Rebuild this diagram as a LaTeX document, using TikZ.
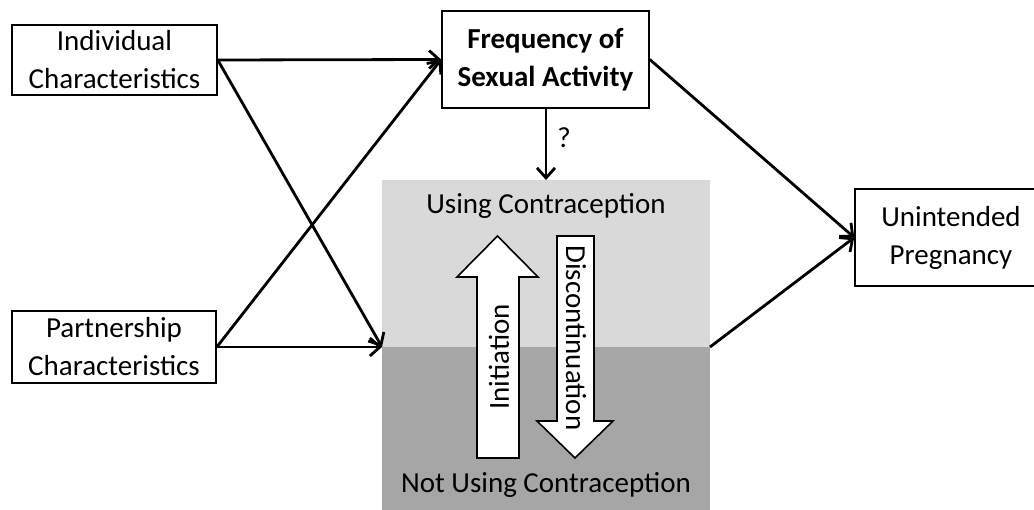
\documentclass[tikz,border=0pt]{standalone}
\usepackage{fontspec}
\setmainfont{Carlito}
\usetikzlibrary{arrows.meta}
\definecolor{lightfill}{HTML}{D9D9D9}
\definecolor{darkfill}{HTML}{A6A6A6}
\begin{document}
\begin{tikzpicture}[x=1pt,y=-1pt,
  box/.style={draw, line width=1.6pt, fill=white, align=center, font=\fontsize{29}{38}\selectfont, inner sep=0pt},
  conn/.style={line width=2.8pt, -{Straight Barb[length=10pt,width=18pt]}},
  lbl/.style={font=\fontsize{29}{38}\selectfont, inner sep=0pt},
  bigarrow/.style={draw, line width=1.6pt, fill=white, line join=miter}]
\useasboundingbox (0,0) rectangle (1034,510);
% contraception states
\fill[lightfill] (382,180) rectangle (710,347);
\fill[darkfill] (382,347) rectangle (710,510);
\coordinate (gw) at (382,347);
\coordinate (ge) at (710,347);
\coordinate (gn) at (546,180);
\node[lbl] (using) at (546,206) {Using Contraception};
\node[lbl] (notusing) at (546,485) {Not Using Contraception};
% boxes
\node[box, minimum width=205pt, minimum height=70pt] (ind) at (114.5,60) {Individual\\Characteristics};
\node[box, minimum width=204pt, minimum height=72pt] (part) at (114,347) {Partnership\\Characteristics};
\node[box, minimum width=207pt, minimum height=97pt, font=\fontsize{29}{38}\selectfont\bfseries] (freq) at (545.5,59.5) {Frequency of\\Sexual Activity};
\node[box, minimum width=192pt, minimum height=97pt] (unint) at (951,237.5) {Unintended\\Pregnancy};
% connectors
\draw[conn] (ind.east) -- (freq.west);
\draw[conn] (ind.east) -- (gw);
\draw[conn] (part.east) -- (gw);
\draw[conn] (part.east) -- (freq.west);
\draw[conn] (freq.south -| gn) -- (gn);
\node[lbl] (q) at (564,138) {?};
\draw[conn] (freq.east) -- (unint.west);
\draw[conn] (ge) -- (unint.west);
% transition arrows
\draw[bigarrow] (477,458) -- (477,277) -- (457,277) -- (497.5,236) -- (538,277) -- (519,277) -- (519,458) -- cycle;
\draw[bigarrow] (557,236) -- (594,236) -- (594,421) -- (613,421) -- (575,458) -- (537,421) -- (557,421) -- cycle;
\node[lbl, rotate=90] (init) at (499,357) {Initiation};
\node[lbl, rotate=-90] (disc) at (576,338) {Discontinuation};
\end{tikzpicture}
\end{document}
